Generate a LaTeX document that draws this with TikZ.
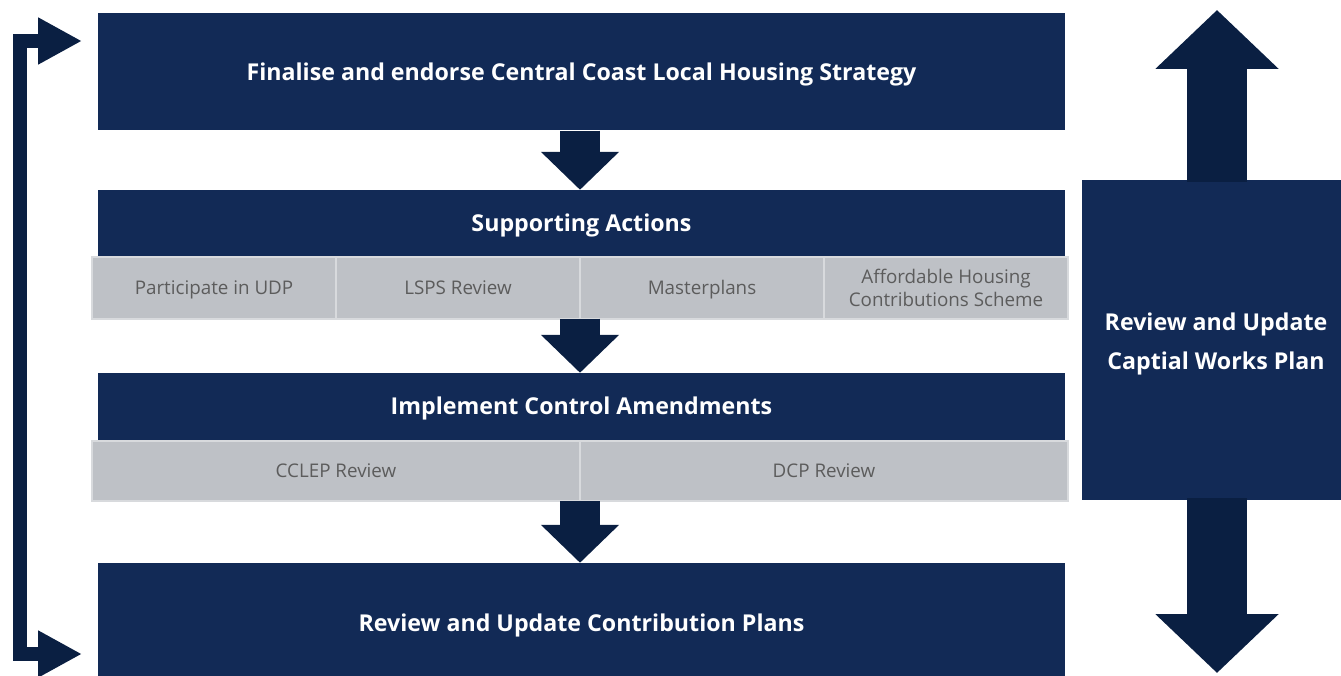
\documentclass[tikz,border=0pt]{standalone}
\usepackage{fontspec}
\setmainfont{Open Sans}
\usetikzlibrary{arrows.meta, positioning}

\definecolor{navy}{RGB}{18,42,86}
\definecolor{arrowblue}{RGB}{10,31,66}
\definecolor{cellgrey}{RGB}{190,193,198}
\definecolor{cellline}{RGB}{216,218,221}
\definecolor{celltext}{RGB}{92,92,92}

\begin{document}
\begin{tikzpicture}[x=1pt, y=-1pt,
	stagebox/.style={fill=navy, text=white, minimum width=967pt, inner sep=0pt,
		text height=16.5pt, text depth=0pt,
		font=\fontsize{23.2}{28}\selectfont\bfseries},
	cellbox/.style={fill=cellgrey, draw=cellline, line width=2pt, text=celltext,
		minimum height=61pt, inner sep=0pt, outer sep=0pt, align=center,
		font=\fontsize{18.8}{23.5}\selectfont},
	oneline/.style={text height=13.4pt, text depth=0pt},
	blockarrow/.style={draw=arrowblue, line width=40pt,
		-{Triangle[length=38pt, width=76pt]}},
	bigarrow/.style={draw=arrowblue, line width=60pt,
		-{Triangle[length=59pt, width=120pt]}},
	looparrow/.style={draw=arrowblue, line width=14pt, line join=miter,
		{Triangle[length=44pt, width=44pt]}-{Triangle[length=44pt, width=44pt]}}]

	\useasboundingbox (0,0) rectangle (1341,676);

	% main stages
	\node[stagebox, minimum height=117pt] (strategy) at (581.5, 72) {Finalise and endorse Central Coast Local Housing Strategy};
	\node[stagebox, minimum height=67pt] (support) at (581.5, 223.5) {Supporting Actions};
	\node[stagebox, minimum height=67pt] (amend) at (581.5, 406.5) {Implement Control Amendments};
	\node[stagebox, minimum height=121pt] (contrib) at (581.5, 623.5) {Review and Update Contribution Plans};

	% supporting actions
	\node[cellbox, oneline, minimum width=244pt] (udp) at (214, 288) {Participate in UDP};
	\node[cellbox, oneline, minimum width=244pt, right=0pt of udp] (lsps) {LSPS Review};
	\node[cellbox, oneline, minimum width=244pt, right=0pt of lsps] (master) {Masterplans};
	\node[cellbox, minimum width=244pt, right=0pt of master] (afford) {Affordable Housing\\Contributions Scheme};

	% control amendments
	\node[cellbox, oneline, minimum width=488pt, minimum height=60pt] (cclep) at (336, 471) {CCLEP Review};
	\node[cellbox, oneline, minimum width=488pt, minimum height=60pt, right=0pt of cclep] (dcp) {DCP Review};

	% capital works
	\node[fill=navy, text=white, minimum width=259pt, minimum height=320pt, inner sep=0pt,
		align=center, font=\fontsize{23.2}{39}\selectfont\bfseries] (works) at (1211.5, 340)
		{\rule{0pt}{25.5pt}\hspace*{9pt}Review and Update\\\hspace*{9pt}Captial Works Plan};

	\coordinate (uptip) at (1217, 10);
	\coordinate (downtip) at (1217, 673);
	\coordinate (toptip) at (82, 41);
	\coordinate (bottip) at (82, 654);

	% flow
	\draw[blockarrow] (strategy.south -| 580,0) -- (support.north -| 580,0);
	\draw[blockarrow] (lsps.south east |- udp.south) -- (amend.north -| lsps.south east);
	\draw[blockarrow] (cclep.south east) -- (contrib.north -| cclep.south east);

	\draw[bigarrow] ([yshift=-2pt]works.north -| uptip) -- (uptip);
	\draw[bigarrow] ([yshift=2pt]works.south -| downtip) -- (downtip);

	\draw[looparrow] (toptip) -- ++(-62,0) |- (bottip);
\end{tikzpicture}
\end{document}
